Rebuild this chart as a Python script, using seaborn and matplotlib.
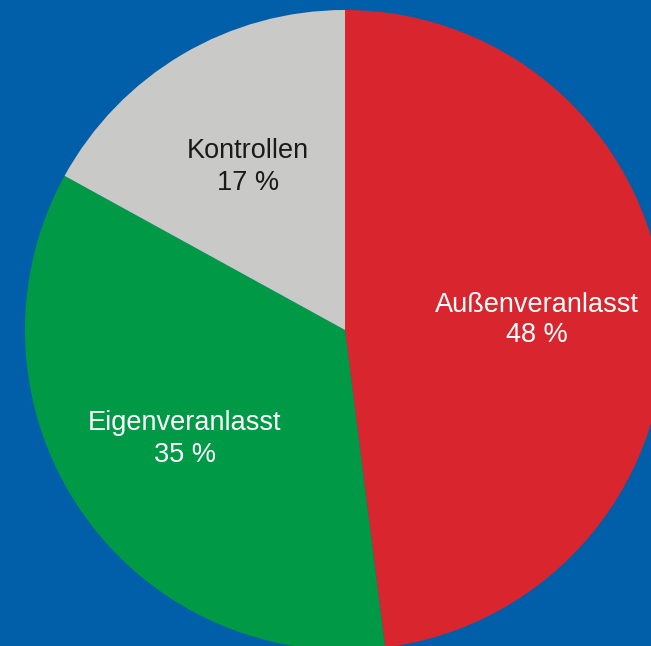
import matplotlib
matplotlib.use("Agg")
import matplotlib.pyplot as plt
import seaborn as sns

# Data
categories = ["Außenveranlasst", "Eigenveranlasst", "Kontrollen"]
shares = [48, 35, 17]
slice_colors = ["#D9252D", "#009A46", "#C9C9C8"]
text_colors = ["white", "white", "#1a1a1a"]

BG = "#005FA8"

sns.set_style("white")
plt.rcParams["font.family"] = ["Liberation Sans", "DejaVu Sans"]

fig = plt.figure(figsize=(6.51, 6.46), dpi=100)
fig.patch.set_facecolor(BG)
ax = fig.add_axes([0, 0, 1, 1])
ax.set_facecolor(BG)

# pixel-like coordinates, origin bottom-left
cx, cy, r = 345, 646 - 330, 320
wedges, _ = ax.pie(
    shares,
    colors=slice_colors,
    startangle=90,
    counterclock=False,
    center=(cx, cy),
    radius=r,
    wedgeprops=dict(linewidth=0),
)

label_pos = [(537, 646 - 320), (185, 646 - 439), (248, 646 - 167)]
for name, val, (x, y), tc in zip(categories, shares, label_pos, text_colors):
    ax.text(x, y, f"{name}\n{val} %", ha="center", va="center",
            fontsize=19.5, color=tc, linespacing=1.25)

ax.set_xlim(0, 651)
ax.set_ylim(0, 646)
ax.set_aspect("equal")
ax.axis("off")

fig.savefig("out.png", dpi=100, facecolor=BG)
